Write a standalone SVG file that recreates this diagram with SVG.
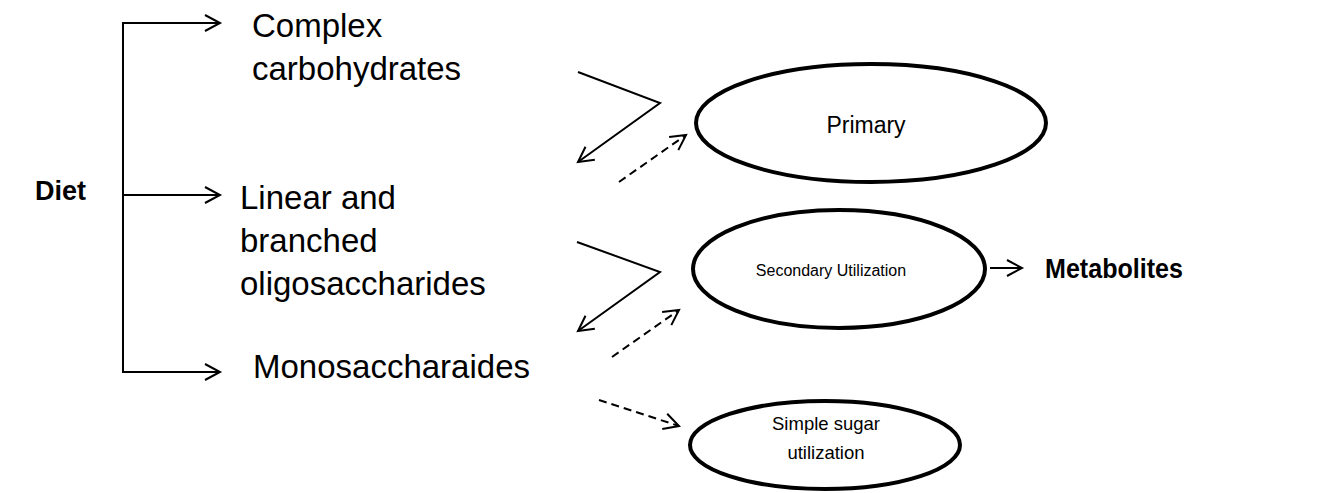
<svg xmlns="http://www.w3.org/2000/svg" width="1329" height="493" viewBox="0 0 1329 493">
<defs>
<marker id="arr" markerUnits="userSpaceOnUse" markerWidth="22" markerHeight="22" viewBox="0 0 22 22" refX="18" refY="11" orient="auto">
<path d="M3,3 L18,11 L3,19" fill="none" stroke="#000" stroke-width="2"/>
</marker>
</defs>
<style>
.t{font-family:"Liberation Sans",Arial,sans-serif;fill:#000}
.lbl{font-size:33px}
.b{font-weight:bold;font-size:27px}
.ln{fill:none;stroke:#000;stroke-width:2}
.ds{fill:none;stroke:#000;stroke-width:2;stroke-dasharray:8,5}
.el{fill:#fff;stroke:#000;stroke-width:4}
</style>
<g id="diet"><text class="t b" x="35" y="200">Diet</text></g>
<g id="complex"><text class="t lbl" x="252" y="37">Complex</text><text class="t lbl" x="252" y="80">carbohydrates</text></g>
<g id="linear"><text class="t lbl" x="240" y="209">Linear and</text><text class="t lbl" x="240" y="252">branched</text><text class="t lbl" x="240" y="295">oligosaccharides</text></g>
<g id="mono"><text class="t lbl" x="253" y="378">Monosaccharaides</text></g>
<g id="primary"><ellipse class="el" cx="871" cy="123" rx="175" ry="59"/><text class="t" x="866" y="133" font-size="23" text-anchor="middle">Primary</text></g>
<g id="secondary"><ellipse class="el" cx="839" cy="269" rx="146" ry="59"/><text class="t" x="831" y="276" font-size="16" text-anchor="middle">Secondary Utilization</text></g>
<g id="simple"><ellipse class="el" cx="825" cy="445" rx="135" ry="44"/><text class="t" x="826" y="430" font-size="18.5" text-anchor="middle">Simple sugar</text><text class="t" x="826" y="459" font-size="18.5" text-anchor="middle">utilization</text></g>
<g id="metabolites"><text class="t b" x="1045" y="278" textLength="138" lengthAdjust="spacingAndGlyphs">Metabolites</text></g>
<g id="connectors">
<path class="ln" d="M220,23 H123 V372 H220"/>
<path class="ln" d="M123,23 H220" marker-end="url(#arr)"/>
<path class="ln" d="M123,195 H220" marker-end="url(#arr)"/>
<path class="ln" d="M123,372 H220" marker-end="url(#arr)"/>
<polyline class="ln" points="578,72 660,103 578,162" marker-end="url(#arr)"/>
<line class="ds" x1="619" y1="182" x2="686" y2="135" marker-end="url(#arr)"/>
<polyline class="ln" points="577,242 660,272 578,331" marker-end="url(#arr)"/>
<line class="ds" x1="612" y1="357" x2="679" y2="310" marker-end="url(#arr)"/>
<line class="ds" x1="599" y1="400" x2="679" y2="426" marker-end="url(#arr)"/>
<line class="ln" x1="990" y1="268" x2="1022" y2="268" marker-end="url(#arr)"/>
</g>
</svg>
